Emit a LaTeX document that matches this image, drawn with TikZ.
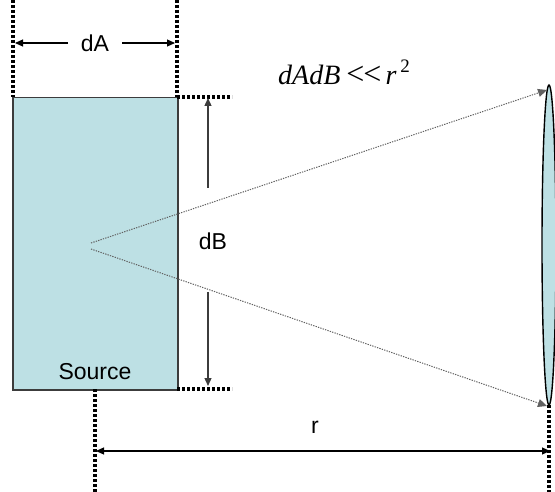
\documentclass[tikz,border=0pt]{standalone}
\usepackage{fontspec}
\setmainfont{Liberation Sans}
\newfontfamily\timesfont{Liberation Serif}
\usetikzlibrary{arrows.meta,shapes.geometric}
\definecolor{srcfill}{RGB}{189,224,228}
\definecolor{edgegray}{RGB}{60,60,60}
\tikzset{
  bigdots/.style={line width=3.2pt, dash pattern=on 3pt off 2pt, black},
  rays/.style={line width=1pt, dash pattern=on 1.3pt off 1.2pt, gray!75!black, -{Triangle[length=9pt,width=8pt]}},
  dimarrow/.style={line width=1.1pt, black, -{Triangle[length=8pt,width=7pt]}},
  lbl/.style={font=\fontsize{23}{26}\selectfont, inner sep=0pt},
}
\begin{document}
\begin{tikzpicture}[x=1pt,y=-1pt]
\useasboundingbox (0,0) rectangle (555,492);
% source rectangle
\node[draw=edgegray, line width=1.5pt, fill=srcfill, minimum width=165pt, minimum height=292pt, inner sep=0pt, anchor=north west] (src) at (12,97) {};
\node[lbl] (srclbl) at (95,372) {Source};
% receiver ellipse
\node[draw=black, line width=1.4pt, fill=srcfill, ellipse, minimum width=14pt, minimum height=320pt, inner sep=0pt] (rcv) at (549,245) {};
% coordinates
\coordinate (tl) at (13,0);
\coordinate (tr) at (177,0);
\coordinate (a1) at (13,97);
\coordinate (a2) at (177,97);
\coordinate (hb1) at (232,97);
\coordinate (b1) at (177,389);
\coordinate (hb2) at (232,389);
\coordinate (c1) at (95,389);
\coordinate (c2) at (95,492);
\coordinate (d1) at (549,405);
\coordinate (d2) at (549,492);
% dotted extension lines
\draw[bigdots] (tl) -- (a1);
\draw[bigdots] (tr) -- (a2);
\draw[bigdots] (a2) -- (hb1);
\draw[bigdots] (b1) -- (hb2);
\draw[bigdots] (c1) -- (c2);
\draw[bigdots] (d1) -- (d2);
% dA
\node[lbl] (dA) at (95,43) {dA};
\coordinate (dAl) at (15,43);
\coordinate (dAr) at (175,43);
\draw[dimarrow] (68,43) -- (dAl);
\draw[dimarrow] (122,43) -- (dAr);
% dB
\node[lbl] (dB) at (213,241) {dB};
\coordinate (dBt) at (208,98);
\coordinate (dBb) at (208,386);
\draw[dimarrow, edgegray, line width=1.3pt] (208,188) -- (dBt);
\draw[dimarrow, edgegray, line width=1.3pt] (208,292) -- (dBb);
% r
\node[lbl] (r) at (315,427) {r};
\coordinate (rl) at (96,451);
\coordinate (rr) at (550,451);
\draw[dimarrow, {Triangle[length=8pt,width=7pt]}-{Triangle[length=8pt,width=7pt]}] (rl) -- (rr);
% rays
\coordinate (o1) at (91,243);
\coordinate (o2) at (91,249);
\coordinate (e1) at (547,90);
\coordinate (e2) at (547,406);
\draw[rays] (o1) -- (e1);
\draw[rays] (o2) -- (e2);
% formula
\node[font=\timesfont\fontsize{28}{30}\selectfont, inner sep=0pt, anchor=base west] (f) at (278,85) {\textit{dAdB}\hspace{6pt}{\fontsize{32}{34}\selectfont{<}\kern-1pt{<}}\hspace{4pt}\textit{r}\hspace{4pt}\raisebox{0.45em}{\fontsize{19}{20}\selectfont 2}};
\end{tikzpicture}
\end{document}
